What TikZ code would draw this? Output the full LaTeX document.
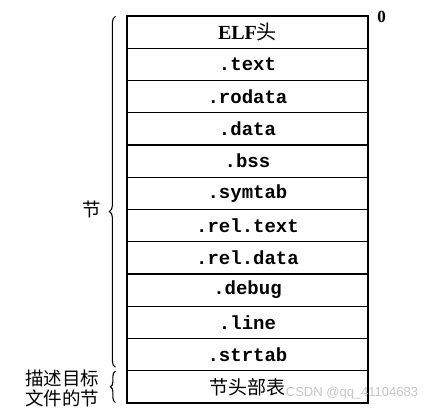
\documentclass[tikz,border=0pt]{standalone}
\usepackage{fontspec}
\setmainfont{Liberation Serif}
\setmonofont{Liberation Mono}
\newfontfamily\cjk{Noto Sans CJK SC}
\newfontfamily\wmfont{Liberation Sans}
\usetikzlibrary{positioning, decorations.pathreplacing}

\begin{document}
\begin{tikzpicture}[node distance=32.25pt, on grid, x=1pt, y=1pt]
	\tikzstyle{section} = [draw, line width=1.2pt, rectangle, inner sep=0pt, minimum height=32.25pt, minimum width=241pt, font={\ttfamily\bfseries\fontsize{19}{19}\selectfont}];
	\tikzstyle{braceEdge} = [line width=1.1pt, decorate, decoration={brace, amplitude=6pt}];
	\tikzstyle{sideLabel} = [align=center, font={\cjk\fontsize{18.5}{20}\selectfont}];
	\useasboundingbox (0,0) rectangle (431,-414);
	
	\node[section](elf) at (247.5,-32.1) {\rmfamily\bfseries\fontsize{20}{20}\selectfont ELF{\cjk\mdseries 头}};
	\node[section](text) [below=of elf]{.text};
	\node[section](rodata) [below=of text]{.rodata};
	\node[section](data) [below=of rodata]{.data};
	\node[section](bss) [below=of data]{.bss};
	\node[section](symtab) [below=of bss]{.symtab};
	\node[section](reltext) [below=of symtab]{.rel.text};
	\node[section](reldata) [below=of reltext]{.rel.data};
	\node[section](debug) [below=of reldata]{.debug};
	\node[section](line) [below=of debug]{.line};
	\node[section](strtab) [below=of line]{.strtab};
	\node[section](sht) [below=of strtab]{\cjk\mdseries 节头部表};
	
	\node[font={\rmfamily\bfseries\fontsize{17}{17}\selectfont}](zero) at ([xshift=13pt, yshift=-1.5pt]elf.north east) {0};
	
	% braces on the left
	\draw[braceEdge, decoration={aspect=0.444}] ([xshift=-11pt, yshift=4pt]strtab.south west) -- ([xshift=-11pt, yshift=-1pt]elf.north west);
	\draw[braceEdge, decoration={amplitude=5pt}] ([xshift=-11pt, yshift=1pt]sht.south west) -- ([xshift=-11pt, yshift=-1pt]sht.north west);
	\node[sideLabel](secs) at (91.5,-209) {节};
	\node[sideLabel](shtLabel) at (62,-388) {描述目标\\文件的节};
	
	\node[text=gray!45, font={\wmfont\fontsize{13}{13}\selectfont}](mark) at (352,-393) {CSDN @qq\_41104683};
\end{tikzpicture}
\end{document}
